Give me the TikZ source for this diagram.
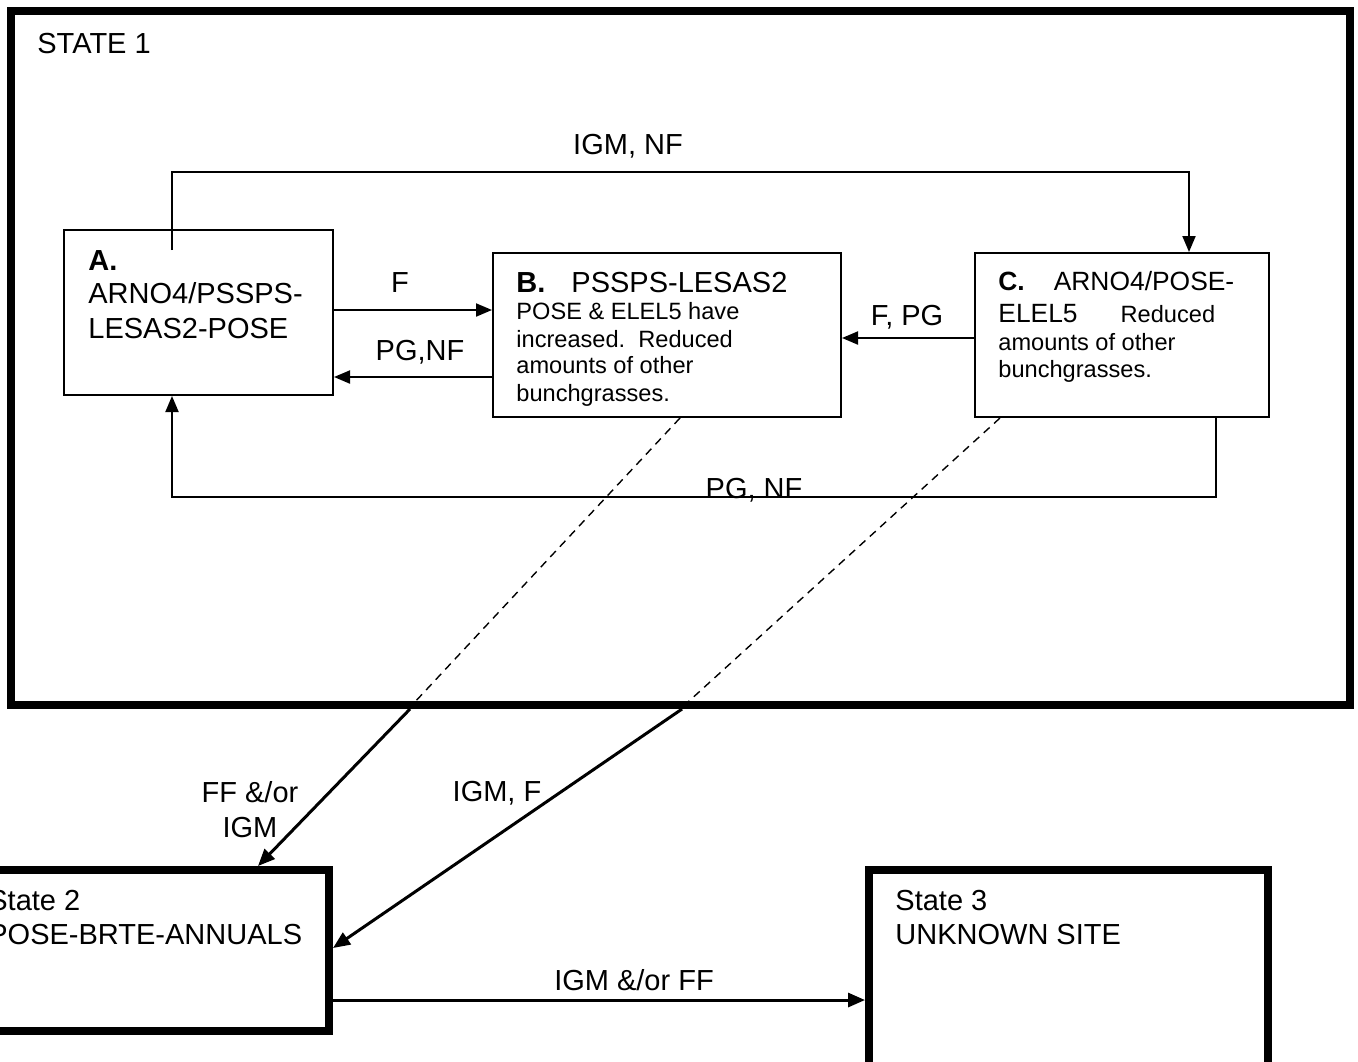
\documentclass[tikz,border=0pt]{standalone}
\usepackage{fontspec}
\setmainfont{Liberation Sans}
\usetikzlibrary{arrows.meta}
\newcommand\myBig{\fontsize{14.5}{17.5}\selectfont}
\newcommand\myMid{\fontsize{13.2}{16}\selectfont}
\newcommand\mySmall{\fontsize{11.8}{14}\selectfont}
\begin{document}
\begin{tikzpicture}[x=0.5pt,y=-0.5pt,
  box/.style={draw,line width=1pt,inner sep=0pt},
  statebox/.style={draw,line width=4pt,inner sep=0pt},
  txt/.style={anchor=base west,inner sep=0pt},
  bigtxt/.style={font=\myBig},
  midtxt/.style={font=\myMid},
  smalltxt/.style={font=\mySmall},
  lbl/.style={font=\myBig,inner sep=0pt},
  arr/.style={line width=1pt,-{Triangle[length=8pt,width=6.5pt]}},
  thickarr/.style={line width=1.5pt,-{Triangle[length=8.5pt,width=7pt]}},
  dashlink/.style={line width=0.7pt,dash pattern=on 4pt off 3pt}]
\useasboundingbox (0,0) rectangle (1358,1061);
\fill[white] (0,0) rectangle (1358,1061);

% State 1
\node[statebox,minimum width=669.5pt,minimum height=347pt] (S1) at (680.5,358) {};
\node[txt,bigtxt] (s1t) at (37,53) {STATE 1};

% Box A
\node[box,minimum width=134.5pt,minimum height=82.5pt] (A) at (198.5,312.5) {};
\node[txt,bigtxt] (At1) at (88,270) {\textbf{A.}};
\node[txt,bigtxt] (At2) at (88,303) {ARNO4/PSSPS-};
\node[txt,bigtxt] (At3) at (88,338) {LESAS2-POSE};

% Box B
\node[box,minimum width=174pt,minimum height=82pt] (B) at (667,335) {};
\node[txt,bigtxt] (Bt1) at (516,292) {\textbf{B.}\hspace{13pt}PSSPS-LESAS2};
\node[txt,smalltxt] (Bt2) at (516,319) {POSE \& ELEL5 have};
\node[txt,smalltxt] (Bt3) at (516,347) {increased.\ \ Reduced};
\node[txt,smalltxt] (Bt4) at (516,373) {amounts of other};
\node[txt,smalltxt] (Bt5) at (516,401) {bunchgrasses.};

% Box C
\node[box,minimum width=147pt,minimum height=82pt] (C) at (1122,335) {};
\node[txt,midtxt] (Ct1) at (998,290) {\textbf{C.}\hspace{14.5pt}ARNO4/POSE-};
\node[txt] (Ct2) at (998,322) {{\myMid ELEL5}\hspace{21.5pt}{\mySmall Reduced}};
\node[txt,smalltxt] (Ct3) at (998,350) {amounts of other};
\node[txt,smalltxt] (Ct4) at (998,377) {bunchgrasses.};

% State 2 and State 3
\node[statebox,minimum width=179.5pt,minimum height=80.5pt] (S2) at (149.5,950.5) {};
\node[txt,bigtxt] (S2t1) at (-12,910) {State 2};
\node[txt,bigtxt] (S2t2) at (-12,944) {POSE-BRTE-ANNUALS};
\node[statebox,minimum width=199.5pt,minimum height=102.5pt] (S3) at (1068.5,972.5) {};
\node[txt,bigtxt] (S3t1) at (895,910) {State 3};
\node[txt,bigtxt] (S3t2) at (895,944) {UNKNOWN SITE};

% connectors inside State 1
\coordinate (a0) at (172,250);
\coordinate (c0) at (1189,172);
\draw[arr] (a0) -- (a0 |- c0) -- (c0) -- (C.north -| c0);
\node[lbl] (l1) at (628,146) {IGM, NF};

\draw[arr] (A.east |- 0,310) -- (B.west |- 0,310);
\node[lbl] (l2) at (400,283) {F};
\draw[arr] (B.west |- 0,377) -- (A.east |- 0,377);
\node[lbl] (l3) at (420,352) {PG,NF};
\draw[arr] (C.west |- 0,338) -- (B.east |- 0,338);
\node[lbl] (l4) at (907,317) {F, PG};

\coordinate (d0) at (1216,497);
\coordinate (d1) at (172,497);
\draw[arr] (C.south -| d0) -- (d0) -- (d1) -- (A.south -| d1);
\node[lbl,anchor=base] (l5) at (754,498) {PG, NF};

% dashed links
\coordinate (e0) at (413,704);
\coordinate (e1) at (688,702);
\draw[dashlink] (B.south -| 680,0) -- (e0);
\draw[dashlink] (C.south -| 1000,0) -- (e1);

% transitions between states
\draw[thickarr] (S1.south -| 410,0) -- (S2.north -| 258,0);
\node[lbl,align=center] (l6) at (250,810) {FF \&/or\\IGM};
\draw[thickarr] (S1.south -| 682,0) -- (S2.east |- 0,948);
\node[lbl] (l7) at (497,793) {IGM, F};
\draw[thickarr] (S2.east |- 0,1000) -- (S3.west |- 0,1000);
\node[lbl] (l8) at (634,980) {IGM \&/or FF};
\end{tikzpicture}
\end{document}
